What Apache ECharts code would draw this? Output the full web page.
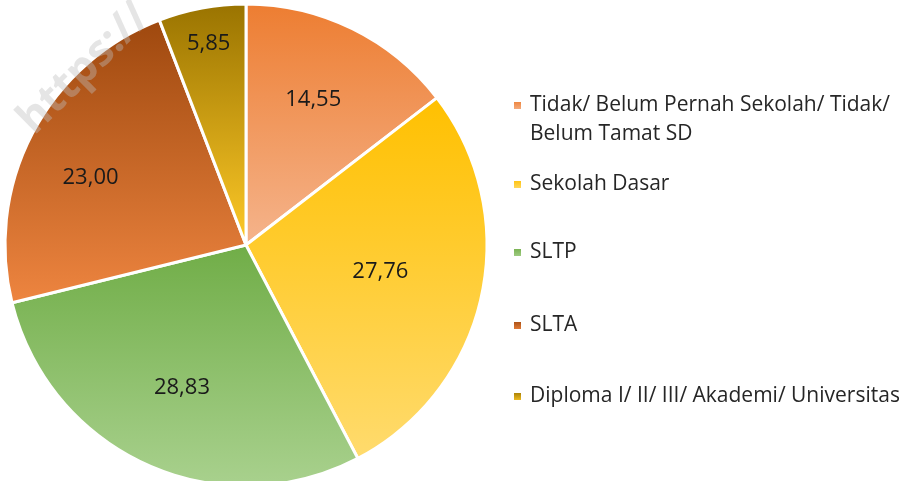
<!DOCTYPE html>
<html>
<head>
<meta charset="utf-8">
<script src="https://cdn.jsdelivr.net/npm/echarts@6/dist/echarts.min.js"></script>
<style>
  html, body { margin: 0; padding: 0; background: #fff; }
  #chart { width: 919px; height: 481px; }
</style>
</head>
<body>
<div id="chart"></div>
<script>
var categories = [
  "Tidak/ Belum Pernah Sekolah/ Tidak/ Belum Tamat SD",
  "Sekolah Dasar",
  "SLTP",
  "SLTA",
  "Diploma I/ II/ III/ Akademi/ Universitas"
];
var values = [14.55, 27.76, 28.83, 23.00, 5.85];
var valueLabels = ["14,55", "27,76", "28,83", "23,00", "5,85"];

// top colour -> bottom colour of each slice
var topColors = ["#ED7D31", "#FFC000", "#70AD47", "#9E480E", "#997300"];
var bottomColors = ["#F5B48C", "#FFDB6E", "#A9D18E", "#EE8540", "#FFCA28"];

// styling: where each value label sits (fraction of radius, angle nudge in degrees), legend rows
var labelRadius = [0.65, 0.556, 0.635, 0.69, 0.835];
var labelTurn = [-1.3, -1.1, 0, -4.3, 0];
var legendTops = [62, 170, 238, 311, 382];

var R = 241;
var ringMid = (72 + R) / 2;

function grad(i) {
  return new echarts.graphic.LinearGradient(0, 0, 0, 1, [
    { offset: 0, color: topColors[i] },
    { offset: 1, color: bottomColors[i] }
  ]);
}

var total = values.reduce(function (a, b) { return a + b; }, 0);
var acc = 0;
var pieData = [];
var labelData = [];
categories.forEach(function (c, i) {
  var mid = (acc + values[i] / 2) / total * Math.PI * 2;
  acc += values[i];
  var want = mid + labelTurn[i] * Math.PI / 180;
  var r = labelRadius[i] * R;
  pieData.push({ name: c, value: values[i], itemStyle: { color: grad(i) } });
  labelData.push({
    name: c,
    value: values[i],
    label: {
      offset: [
        r * Math.sin(want) - ringMid * Math.sin(mid),
        -r * Math.cos(want) + ringMid * Math.cos(mid)
      ]
    }
  });
});

var legends = categories.map(function (c, i) {
  return {
    data: [c],
    orient: "vertical",
    left: 512,
    top: legendTops[i],
    padding: 0,
    icon: "rect",
    itemWidth: 9,
    itemHeight: 9,
    itemGap: 0,
    selectedMode: false,
    // first entry wraps; a blank line above keeps the marker beside its first line
    formatter: function (name) { return i === 0 ? "\n" + name : name; },
    textStyle: {
      fontFamily: "Open Sans",
      fontSize: 21,
      color: "#262626",
      lineHeight: 29,
      width: 380,
      overflow: "break",
      padding: [0, 0, 0, 3]
    }
  };
});

var myChart = echarts.init(document.getElementById("chart"));
var option = {
  backgroundColor: "#fff",
  animation: false,
  legend: legends,
  series: [
    {
      name: "pie",
      type: "pie",
      center: [246, 245],
      radius: [0, R],
      startAngle: 90,
      clockwise: true,
      label: { show: false },
      labelLine: { show: false },
      itemStyle: { borderColor: "#fff", borderWidth: 3 },
      emphasis: { disabled: true },
      data: pieData
    },
    {
      name: "labels",
      type: "pie",
      center: [246, 245],
      radius: [72, R],
      startAngle: 90,
      clockwise: true,
      silent: true,
      legendHoverLink: false,
      itemStyle: { color: "rgba(0,0,0,0)" },
      label: {
        show: true,
        position: "inside",
        fontFamily: "Open Sans",
        fontSize: 22,
        color: "#1a1a1a",
        formatter: function (p) { return valueLabels[p.dataIndex]; }
      },
      labelLine: { show: false },
      data: labelData
    }
  ],
  graphic: [
    {
      type: "text",
      left: 10,
      top: -5,
      z: 100,
      rotation: 0.78,
      originX: 0,
      originY: 0,
      style: {
        text: "https://",
        x: 10,
        y: 150,
        fontFamily: "Open Sans",
        fontWeight: "bold",
        fontSize: 44,
        fill: "rgba(190,190,190,0.4)"
      }
    }
  ]
};
myChart.setOption(option);
</script>
</body>
</html>
